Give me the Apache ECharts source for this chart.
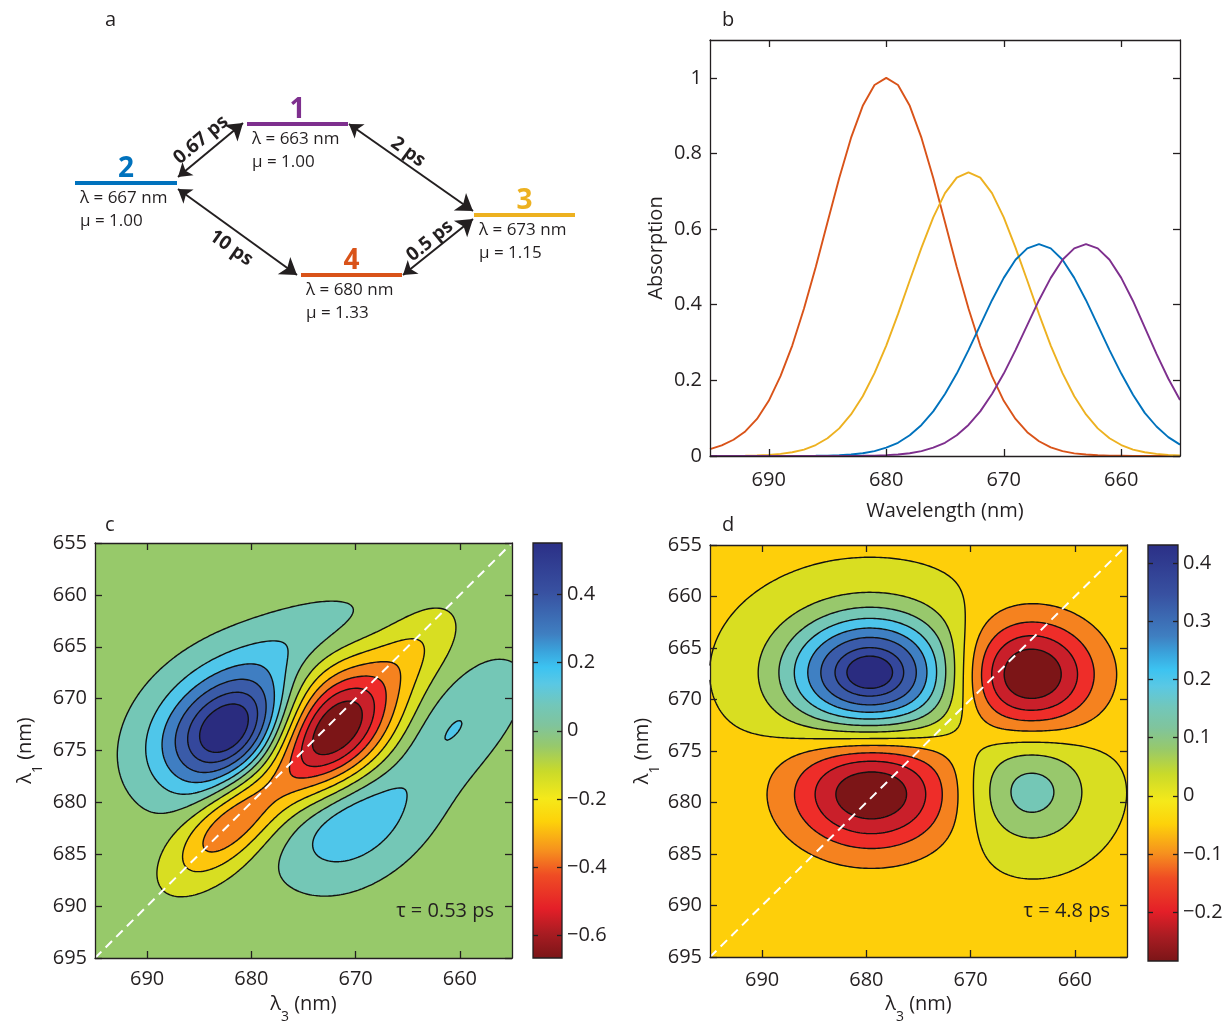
<!DOCTYPE html>
<html>
<head>
<meta charset="utf-8">
<script src="https://cdn.jsdelivr.net/npm/echarts@6.0.0/dist/echarts.min.js"></script>
<style>
  html, body { margin: 0; background: #fff; }
  #chart { width: 1227px; height: 1025px; }
</style>
</head>
<body>
<div id="chart"></div>
<script>
// ---------- panel b: absorption spectra ----------
const wavelengths = [695, 694, 693, 692, 691, 690, 689, 688, 687, 686, 685, 684, 683, 682, 681, 680,
  679, 678, 677, 676, 675, 674, 673, 672, 671, 670, 669, 668, 667, 666, 665, 664, 663, 662, 661, 660,
  659, 658, 657, 656, 655];
const absState1 = [0, 0, 0, 0, 0, 0, 0, 0, 0, 0, 0, 0.0001, 0.0003, 0.0006, 0.0011, 0.0022,
  0.0041, 0.0074, 0.013, 0.022, 0.035, 0.055, 0.082, 0.118, 0.164, 0.218, 0.280, 0.346, 0.412, 0.471, 0.519, 0.549, 0.560, 0.549, 0.519, 0.471,
  0.410, 0.340, 0.270, 0.205, 0.148];
const absState2 = [0, 0, 0, 0, 0, 0, 0, 0.0001, 0.0003, 0.0006, 0.0011, 0.0022, 0.0041, 0.0074, 0.013, 0.022,
  0.035, 0.055, 0.082, 0.118, 0.164, 0.218, 0.280, 0.346, 0.412, 0.471, 0.519, 0.549, 0.560, 0.549, 0.519, 0.471, 0.412, 0.346, 0.280, 0.218,
  0.162, 0.114, 0.078, 0.050, 0.030];
const absState3 = [0.0001, 0.0002, 0.0004, 0.0008, 0.0015, 0.003, 0.0055, 0.010, 0.017, 0.029, 0.047, 0.073, 0.110, 0.158, 0.219, 0.292,
  0.375, 0.464, 0.551, 0.631, 0.695, 0.736, 0.750, 0.736, 0.695, 0.631, 0.551, 0.464, 0.375, 0.292, 0.219, 0.158, 0.110, 0.073, 0.047, 0.029,
  0.017, 0.010, 0.0055, 0.003, 0.0015];
const absState4 = [0.018, 0.028, 0.043, 0.065, 0.098, 0.146, 0.211, 0.292, 0.390, 0.500, 0.618, 0.735, 0.841, 0.926, 0.981, 1.000,
  0.981, 0.926, 0.841, 0.735, 0.618, 0.500, 0.390, 0.292, 0.211, 0.146, 0.098, 0.063, 0.039, 0.023, 0.013, 0.007, 0.004, 0.002, 0.001, 0.001,
  0, 0, 0, 0, 0];
const stateColors = ['#7e2f8e', '#0072bd', '#edb120', '#d95319'];
const wlTicks = [660, 670, 680, 690];
const absTicks = [0, 0.2, 0.4, 0.6, 0.8, 1];
const lambda1Ticks = [655, 660, 665, 670, 675, 680, 685, 690, 695];

// ---------- panel a: kinetic scheme ----------
const levelNames = ['1', '2', '3', '4'];
const levelLambda = [663, 667, 673, 680];
const levelMu = ['1.00', '1.00', '1.15', '1.33'];
const transferTimes = ['0.67 ps', '2 ps', '10 ps', '0.5 ps'];
// diagram layout in panel pixels: [x0, x1, y] per level, arrow ends, label centre + angle
const levelLayout = [[187, 288, 124], [15, 117, 183], [414, 515, 215], [241, 342, 275]];
const arrowLayout = [[[118, 177], [183, 123]], [[289, 124], [413, 211]], [[118, 189], [237, 275]], [[343, 275], [413, 219]]];
const arrowLabelLayout = [[141, 140, 40], [348, 152, -36], [171, 248, -35], [370, 241, 39]];

// ---------- panels c, d: 2D spectra ----------
// peaks: λ3, λ1, amplitude, width along axis, width across axis, tilt (deg)
const peaksC = [
  [681.9, 673.0, 0.60, 5.0, 3.7, 30],
  [672.3, 673.0, -0.72, 5.0, 3.4, 45],
  [681.8, 681.8, -0.36, 5.0, 2.2, 45],
  [664.5, 665.3, -0.13, 4.0, 2.2, 45],
  [671.0, 681.8, 0.20, 4.6, 3.2, 35],
  [660.8, 672.5, 0.126, 5.5, 2.6, 42],
  [665.5, 680.5, 0.04, 7.0, 3.5, 45],
  [675.0, 664.0, 0.09, 5.8, 2.2, 20]
];
const contourLevelsC = [-0.56, -0.46, -0.36, -0.26, -0.16, -0.06, 0.04, 0.13, 0.22, 0.31, 0.40, 0.48];
const bandColorsC = ['#7c1517', '#c9202a', '#ee2b2a', '#f5821f', '#fdc60c', '#d8de22', '#97c96a',
  '#74c7b6', '#4fc6ea', '#3f7ec2', '#3a5ba8', '#34479c', '#2a2c7f'];
const colorbarRangeC = [-0.668, 0.552];
const colorbarTicksC = [-0.6, -0.4, -0.2, 0, 0.2, 0.4];

const peaksD = [
  [679.6, 667.5, 0.45, 5.6, 4.1, 0],
  [664.5, 667.6, -0.30, 4.5, 3.7, 0],
  [679.5, 678.9, -0.29, 5.4, 4.0, 0],
  [664.4, 678.8, 0.16, 4.0, 3.7, 0]
];
const contourLevelsD = [-0.23, -0.17, -0.11, -0.05, 0.01, 0.07, 0.13, 0.19, 0.25, 0.31, 0.37, 0.41];
const bandColorsD = ['#7c1517', '#c91f2a', '#ee2d29', '#f5821f', '#fecf0a', '#d9de21', '#98c86c',
  '#74c7b6', '#4dc4ea', '#3f80c3', '#3a5ba9', '#34479c', '#2a2c80'];
const colorbarRangeD = [-0.284, 0.431];
const colorbarTicksD = [-0.2, -0.1, 0, 0.1, 0.2, 0.3, 0.4];

// colour map of the colour bars, bottom to top
const cmapStops = [[0, '#7a1517'], [0.06, '#a81c22'], [0.12, '#e41f28'], [0.2, '#ef4c24'], [0.26, '#f6911e'],
  [0.33, '#fdd20a'], [0.385, '#f5e91a'], [0.45, '#c9da2a'], [0.51, '#97c96b'], [0.56, '#80c49c'],
  [0.61, '#72c7ba'], [0.66, '#5ac8e4'], [0.70, '#3cc3f1'], [0.74, '#3aa2db'], [0.78, '#3f7fc1'],
  [0.88, '#3851a1'], [1, '#2b2f86']];

const FONT = 'Open Sans';
const INK = '#231f20';
const WL_MIN = 655, WL_MAX = 695;

// ---------- field helpers ----------
function field(peaks, x, y) {
  let v = 0;
  for (const [x0, y0, a, su, sv, ang] of peaks) {
    const t = ang * Math.PI / 180, dx = x - x0, dy = y - y0;
    const u = dx * Math.cos(t) + dy * Math.sin(t);
    const w = -dx * Math.sin(t) + dy * Math.cos(t);
    v += a * Math.exp(-0.5 * (u * u / (su * su) + w * w / (sv * sv)));
  }
  return v;
}

function bandImage(peaks, levels, colors, n) {
  const cv = document.createElement('canvas');
  cv.width = n; cv.height = n;
  const ctx = cv.getContext('2d');
  const img = ctx.createImageData(n, n);
  const rgb = colors.map(h => [1, 3, 5].map(k => parseInt(h.slice(k, k + 2), 16)));
  const span = WL_MAX - WL_MIN;
  for (let j = 0; j < n; j++) {
    for (let i = 0; i < n; i++) {
      const x = WL_MAX - (i + 0.5) * span / n;
      const y = WL_MIN + (j + 0.5) * span / n;
      const v = field(peaks, x, y);
      let k = 0;
      while (k < levels.length && v >= levels[k]) k++;
      const p = (j * n + i) * 4;
      img.data[p] = rgb[k][0]; img.data[p + 1] = rgb[k][1]; img.data[p + 2] = rgb[k][2]; img.data[p + 3] = 255;
    }
  }
  ctx.putImageData(img, 0, 0);
  return cv;
}

// marching squares, stitched into polylines
function contourLines(peaks, levels, step) {
  const n = Math.round((WL_MAX - WL_MIN) / step) + 1;
  const X = i => WL_MAX - i * step, Y = j => WL_MIN + j * step;
  const g = [];
  for (let j = 0; j < n; j++) {
    const row = [];
    for (let i = 0; i < n; i++) row.push(field(peaks, X(i), Y(j)));
    g.push(row);
  }
  const chains = [];
  for (const L of levels) {
    const pts = new Map();
    const edge = (type, i, j) => {
      const key = type + i + ',' + j;
      if (!pts.has(key)) {
        const a = g[j][i], b = type === 'h' ? g[j][i + 1] : g[j + 1][i];
        const t = (L - a) / (b - a);
        pts.set(key, type === 'h' ? [X(i + t), Y(j)] : [X(i), Y(j + t)]);
      }
      return key;
    };
    const segs = [];
    for (let j = 0; j < n - 1; j++) {
      for (let i = 0; i < n - 1; i++) {
        const a = g[j][i] >= L, b = g[j][i + 1] >= L, c = g[j + 1][i + 1] >= L, d = g[j + 1][i] >= L;
        const hit = [];
        if (a !== b) hit.push(edge('h', i, j));
        if (b !== c) hit.push(edge('v', i + 1, j));
        if (c !== d) hit.push(edge('h', i, j + 1));
        if (d !== a) hit.push(edge('v', i, j));
        if (hit.length === 2) segs.push(hit);
        else if (hit.length === 4) { segs.push([hit[0], hit[1]]); segs.push([hit[2], hit[3]]); }
      }
    }
    const ends = new Map();
    segs.forEach((s, k) => s.forEach(e => { if (!ends.has(e)) ends.set(e, []); ends.get(e).push(k); }));
    const used = new Array(segs.length).fill(false);
    for (let k = 0; k < segs.length; k++) {
      if (used[k]) continue;
      used[k] = true;
      const chain = [segs[k][0], segs[k][1]];
      for (const fwd of [true, false]) {
        let grow = true;
        while (grow) {
          grow = false;
          const tip = fwd ? chain[chain.length - 1] : chain[0];
          for (const m of ends.get(tip)) {
            if (used[m]) continue;
            used[m] = true;
            const nxt = segs[m][0] === tip ? segs[m][1] : segs[m][0];
            if (fwd) chain.push(nxt); else chain.unshift(nxt);
            grow = true;
            break;
          }
        }
      }
      chains.push(chain.map(key => pts.get(key)));
    }
  }
  return chains;
}

// ---------- axes ----------
function frameAxis(gridIndex, position, min, max, ticks, labels, extra) {
  return Object.assign({
    type: 'value', gridIndex, position, min, max, z: 10,
    splitLine: { show: false },
    axisLine: { show: true, onZero: false, lineStyle: { color: INK, width: 1.3 } },
    axisTick: { show: true, inside: true, length: 7, customValues: ticks, lineStyle: { color: INK, width: 1.3 } },
    axisLabel: { show: labels, customValues: ticks, color: INK, fontFamily: FONT, fontSize: 20, margin: 8 },
    nameTextStyle: { color: INK, fontFamily: FONT, fontSize: 20 }
  }, extra || {});
}
function hiddenAxis(gridIndex, min, max, extra) {
  return Object.assign({ type: 'value', gridIndex, min, max, show: false }, extra || {});
}
function minusFmt(v) { return v < 0 ? '\u2212' + Math.abs(v) : String(v); }
function labelMargin(ax, m) { ax.axisLabel.margin = m; return ax; }

const subRich = {
  m: { fontFamily: FONT, fontSize: 20, color: INK, lineHeight: 40, verticalAlign: 'middle' },
  s: { fontFamily: FONT, fontSize: 14, color: INK, lineHeight: 40, verticalAlign: 'bottom' }
};

const xAxes = [
  hiddenAxis(0, 0, 540),
  labelMargin(frameAxis(1, 'bottom', WL_MIN, WL_MAX, wlTicks, true, { inverse: true, name: 'Wavelength (nm)', nameLocation: 'middle', nameGap: 45 }), 14),
  frameAxis(1, 'top', WL_MIN, WL_MAX, wlTicks, false, { inverse: true }),
  labelMargin(frameAxis(2, 'bottom', WL_MIN, WL_MAX, wlTicks, true, { inverse: true, name: '{m|λ}{s|3}{m| (nm)}', nameLocation: 'middle', nameGap: 26, nameTextStyle: { rich: subRich } }), 11),
  frameAxis(2, 'top', WL_MIN, WL_MAX, wlTicks, false, { inverse: true }),
  hiddenAxis(3, 0, 1),
  labelMargin(frameAxis(4, 'bottom', WL_MIN, WL_MAX, wlTicks, true, { inverse: true, name: '{m|λ}{s|3}{m| (nm)}', nameLocation: 'middle', nameGap: 27, nameTextStyle: { rich: subRich } }), 13),
  frameAxis(4, 'top', WL_MIN, WL_MAX, wlTicks, false, { inverse: true }),
  hiddenAxis(5, 0, 1)
];

function colorbarAxis(gridIndex, position, range, ticks, labels) {
  const ax = frameAxis(gridIndex, position, range[0], range[1], ticks, labels);
  ax.axisLine.show = false;
  ax.axisTick.length = 5;
  ax.axisLabel.formatter = minusFmt;
  ax.axisLabel.margin = 5;
  return ax;
}

const yAxes = [
  hiddenAxis(0, 0, 340, { inverse: true }),
  frameAxis(1, 'left', 0, 1.1, absTicks, true, { name: 'Absorption', nameLocation: 'middle', nameGap: 44 }),
  frameAxis(1, 'right', 0, 1.1, absTicks, false),
  frameAxis(2, 'left', WL_MIN, WL_MAX, lambda1Ticks, true, { inverse: true, name: '{m|λ}{s|1}{m| (nm)}', nameLocation: 'middle', nameGap: 50, nameTextStyle: { rich: subRich } }),
  frameAxis(2, 'right', WL_MIN, WL_MAX, lambda1Ticks, false, { inverse: true }),
  colorbarAxis(3, 'left', colorbarRangeC, colorbarTicksC, false),
  colorbarAxis(3, 'right', colorbarRangeC, colorbarTicksC, true),
  frameAxis(4, 'left', WL_MIN, WL_MAX, lambda1Ticks, true, { inverse: true, name: '{m|λ}{s|1}{m| (nm)}', nameLocation: 'middle', nameGap: 48, nameTextStyle: { rich: subRich } }),
  frameAxis(4, 'right', WL_MIN, WL_MAX, lambda1Ticks, false, { inverse: true }),
  colorbarAxis(5, 'left', colorbarRangeD, colorbarTicksD, false),
  colorbarAxis(5, 'right', colorbarRangeD, colorbarTicksD, true)
];

// ---------- series ----------
const series = [];

// panel a
series.push({
  type: 'lines', coordinateSystem: 'cartesian2d', xAxisIndex: 0, yAxisIndex: 0, silent: true,
  symbol: 'none', lineStyle: { width: 4, opacity: 1 },
  data: levelLayout.map((l, k) => ({ coords: [[l[0], l[2]], [l[1], l[2]]], lineStyle: { color: stateColors[k] } }))
});
series.push({
  type: 'lines', coordinateSystem: 'cartesian2d', xAxisIndex: 0, yAxisIndex: 0, silent: true,
  symbol: ['arrow', 'arrow'], symbolSize: [13, 16], lineStyle: { color: INK, width: 2, opacity: 1 },
  data: arrowLayout.map(c => ({ coords: c }))
});
const textItems = [];
levelLayout.forEach((l, k) => {
  textItems.push({ value: [(l[0] + l[1]) / 2, l[2] - 14],
    label: { formatter: levelNames[k], fontSize: 28, fontWeight: 'bold', color: stateColors[k], position: 'inside' } });
  textItems.push({ value: [l[0] + 5, l[2] + 15],
    label: { formatter: 'λ = ' + levelLambda[k] + ' nm', color: INK, position: 'right', distance: 0 } });
  textItems.push({ value: [l[0] + 5, l[2] + 38],
    label: { formatter: 'μ = ' + levelMu[k], color: INK, position: 'right', distance: 0 } });
});
arrowLabelLayout.forEach((p, k) => {
  textItems.push({ value: [p[0], p[1]],
    label: { formatter: transferTimes[k], fontSize: 19, fontWeight: 'bold', color: INK, rotate: p[2], position: 'inside' } });
});
series.push({
  type: 'scatter', xAxisIndex: 0, yAxisIndex: 0, silent: true, symbolSize: 0,
  itemStyle: { color: '#fff', opacity: 1 },
  label: { show: true, color: INK, fontFamily: FONT, fontSize: 17 },
  data: textItems
});

// panel b
[absState4, absState3, absState2, absState1].forEach((arr, k) => {
  series.push({
    type: 'line', xAxisIndex: 1, yAxisIndex: 1, symbol: 'none', silent: true,
    lineStyle: { color: stateColors[3 - k], width: 1.9 },
    data: wavelengths.map((w, i) => [w, arr[i]])
  });
});

// panels c and d
function spectrumSeries(xi, yi, peaks, levels, colors) {
  const img = bandImage(peaks, levels, colors, 420);
  series.push({
    type: 'custom', xAxisIndex: xi, yAxisIndex: yi, silent: true, z: 1,
    data: [[WL_MAX, WL_MIN, WL_MIN, WL_MAX]],
    renderItem: (params, api) => {
      const a = api.coord([api.value(0), api.value(1)]);
      const b = api.coord([api.value(2), api.value(3)]);
      return { type: 'image', style: { image: img, x: a[0], y: a[1], width: b[0] - a[0], height: b[1] - a[1] } };
    }
  });
  series.push({
    type: 'lines', coordinateSystem: 'cartesian2d', polyline: true, xAxisIndex: xi, yAxisIndex: yi,
    silent: true, z: 5, progressive: 0, symbol: 'none',
    lineStyle: { color: '#111', width: 1.4, opacity: 1, cap: 'round', join: 'round' },
    data: contourLines(peaks, levels, 0.2).map(c => ({ coords: c }))
  });
  series.push({
    type: 'line', xAxisIndex: xi, yAxisIndex: yi, symbol: 'none', silent: true, z: 6,
    lineStyle: { color: '#fff', width: 2, type: [9, 6] },
    data: [[WL_MAX, WL_MAX], [WL_MIN, WL_MIN]]
  });
}
spectrumSeries(3, 3, peaksC, contourLevelsC, bandColorsC);
spectrumSeries(6, 7, peaksD, contourLevelsD, bandColorsD);

function colorbarSeries(xi, yi, range) {
  series.push({
    type: 'custom', xAxisIndex: xi, yAxisIndex: yi, silent: true, z: 1,
    data: [[0, range[0], 1, range[1]]],
    renderItem: (params, api) => {
      const a = api.coord([api.value(0), api.value(3)]);
      const b = api.coord([api.value(2), api.value(1)]);
      return {
        type: 'rect',
        shape: { x: a[0], y: a[1], width: b[0] - a[0], height: b[1] - a[1] },
        style: {
          fill: new echarts.graphic.LinearGradient(0, 1, 0, 0, cmapStops.map(([o, c]) => ({ offset: o, color: c }))),
          stroke: INK, lineWidth: 1.3
        }
      };
    }
  });
}
colorbarSeries(5, 5, colorbarRangeC);
colorbarSeries(8, 9, colorbarRangeD);

// ---------- text ----------
const txt = (x, y, text, align) => ({
  type: 'text', x, y, z: 20,
  style: { text, fill: INK, font: '20px "' + FONT + '"', textAlign: align || 'left', textVerticalAlign: 'middle' }
});

const chart = echarts.init(document.getElementById('chart'));
chart.setOption({
  animation: false,
  backgroundColor: '#fff',
  grid: [
    { left: 60, top: 0, width: 540, height: 340 },
    { left: 710, top: 40, width: 470, height: 416 },
    { left: 95, top: 543, width: 417, height: 415 },
    { left: 533, top: 543, width: 29, height: 415 },
    { left: 710, top: 545, width: 417, height: 416 },
    { left: 1148, top: 545, width: 30, height: 416 }
  ],
  xAxis: xAxes,
  yAxis: yAxes,
  series,
  graphic: [
    txt(105, 20, 'a'), txt(722, 20, 'b'), txt(105, 525, 'c'), txt(722, 525, 'd'),
    txt(494, 911, 'τ = 0.53 ps', 'right'), txt(1110, 911, 'τ = 4.8 ps', 'right')
  ]
});
</script>
</body>
</html>
